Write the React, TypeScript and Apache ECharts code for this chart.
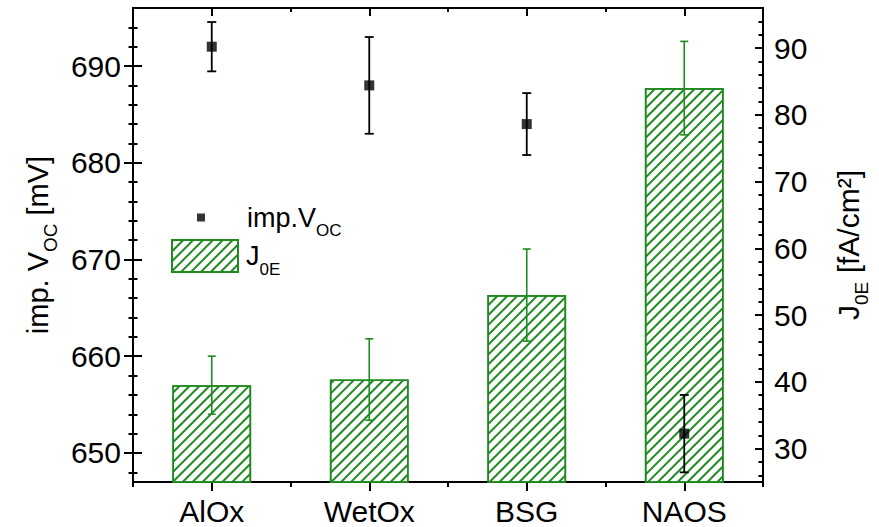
import React, { useEffect, useRef } from "react";
import * as echarts from "echarts";

const categories = ["AlOx", "WetOx", "BSG", "NAOS"];
const vocValues = [692, 688, 684, 652];
const vocErrors = [2.55, 5, 3.2, 4];
const j0eValues = [39.5, 40.35, 53, 84];
const j0eErrors = [4.35, 6.1, 6.9, 7];
const leftMajorTicks = [650, 660, 670, 680, 690];
const leftMinorTicks = [648, 652, 654, 656, 658, 662, 664, 666, 668, 672, 674, 676, 678, 682, 684, 686, 688, 692, 694];
const rightMajorTicks = [30, 40, 50, 60, 70, 80, 90];
const rightMinorTicks = [26, 28, 32, 34, 36, 38, 42, 44, 46, 48, 52, 54, 56, 58, 62, 64, 66, 68, 72, 74, 76, 78, 82, 84, 86, 88, 92, 94];

const GREEN = "#1f8a1f";
const FONT = "Liberation Sans, Arial, sans-serif";

function errorRender(color: string, lw: number, hw: number) {
  return (params: any, api: any) => {
    const x = api.value(0);
    const v = api.value(1);
    const e = api.value(2);
    const top = api.coord([x, v + e]);
    const bot = api.coord([x, v - e]);
    const style = { stroke: color, lineWidth: lw };
    return {
      type: "group",
      children: [
        { type: "line", shape: { x1: top[0], y1: top[1], x2: bot[0], y2: bot[1] }, style },
        { type: "line", shape: { x1: top[0] - hw, y1: top[1], x2: top[0] + hw, y2: top[1] }, style },
        { type: "line", shape: { x1: bot[0] - hw, y1: bot[1], x2: bot[0] + hw, y2: bot[1] }, style },
      ],
    };
  };
}

export default function App() {
  const ref = useRef<HTMLDivElement>(null);
  useEffect(() => {
    const chart = echarts.init(ref.current!, undefined, { renderer: "svg" });
    const black = "#000";
    const lineStyle = { color: black, width: 2 };
    const subStyle = (size: number, pad: number) => ({
      fontSize: size,
      color: black,
      fontFamily: FONT,
      verticalAlign: "bottom",
      padding: [pad, 0, 0, 0],
    });
    const option: any = {
      animation: false,
      textStyle: { fontFamily: FONT, color: black },
      grid: { left: 133, right: 114, top: 8, bottom: 45 },
      legend: [
        {
          data: ["imp.V_OC"],
          left: 197,
          top: 204,
          padding: 0,
          icon: "rect",
          itemWidth: 8,
          itemHeight: 8,
          formatter: () => "{g|}{a|imp.V}{s|OC}",
          textStyle: {
            rich: {
              g: { width: 37 },
              a: { fontSize: 27, color: black, fontFamily: FONT },
              s: subStyle(17, 26),
            },
          },
        },
        {
          data: ["J0E"],
          left: 171,
          top: 239,
          padding: 0,
          icon: "rect",
          itemWidth: 66,
          itemHeight: 32,
          formatter: () => "{a|J}{s|0E}",
          textStyle: {
            rich: {
              a: { fontSize: 27, color: black, fontFamily: FONT, padding: [0, 0, 0, 3] },
              s: subStyle(17, 26),
            },
          },
        },
      ],
      xAxis: [
        {
          type: "category",
          data: categories,
          position: "bottom",
          boundaryGap: true,
          axisLine: { show: true, lineStyle },
          axisTick: { show: true, alignWithLabel: true, length: 9, lineStyle, interval: 0 },
          axisLabel: { fontSize: 30, color: black, margin: 14, fontFamily: FONT, interval: 0 },
          splitLine: { show: false },
        },
        {
          type: "category",
          data: categories,
          position: "bottom",
          axisLine: { show: false },
          axisTick: { show: true, length: 5, lineStyle, interval: 0 },
          axisLabel: { show: false },
          splitLine: { show: false },
        },
        {
          type: "category",
          data: categories,
          position: "top",
          axisLine: { show: true, lineStyle },
          axisTick: { show: true, inside: true, alignWithLabel: true, length: 8, lineStyle, interval: 0 },
          axisLabel: { show: false },
          splitLine: { show: false },
        },
        {
          type: "category",
          data: categories,
          position: "top",
          axisLine: { show: false },
          axisTick: { show: true, inside: true, length: 4, lineStyle, interval: 0 },
          axisLabel: { show: false },
          splitLine: { show: false },
        },
      ],
      yAxis: [
        {
          type: "value",
          position: "left",
          min: 647,
          max: 696,
          axisLine: { show: true, lineStyle },
          axisTick: { show: false },
          axisLabel: { customValues: leftMajorTicks, fontSize: 30, color: black, margin: 12, fontFamily: FONT },
          splitLine: { show: false },
          name: "imp. V{s|OC} [mV]",
          nameLocation: "middle",
          nameRotate: 90,
          nameGap: 72,
          nameTextStyle: {
            fontSize: 29,
            color: black,
            fontFamily: FONT,
            rich: { s: subStyle(19, 26) },
          },
        },
        {
          type: "value",
          position: "right",
          min: 25,
          max: 96,
          axisLine: { show: true, lineStyle },
          axisTick: { show: true, inside: true, customValues: rightMajorTicks, length: 8, lineStyle },
          axisLabel: { customValues: rightMajorTicks, fontSize: 30, color: black, margin: 11, fontFamily: FONT },
          splitLine: { show: false },
          name: "J{s|0E} [fA/cm²]",
          nameLocation: "middle",
          nameRotate: 90,
          nameGap: 63,
          nameTextStyle: {
            fontSize: 30,
            color: black,
            fontFamily: FONT,
            rich: { s: subStyle(19, 26) },
          },
        },
        {
          type: "value",
          position: "left",
          offset: -9,
          min: 647,
          max: 696,
          axisLine: { show: false },
          axisTick: { show: true, customValues: leftMajorTicks, length: 18, lineStyle },
          axisLabel: { show: false },
          splitLine: { show: false },
        },
        {
          type: "value",
          position: "left",
          offset: -4.5,
          min: 647,
          max: 696,
          axisLine: { show: false },
          axisTick: { show: true, customValues: leftMinorTicks, length: 9, lineStyle },
          axisLabel: { show: false },
          splitLine: { show: false },
        },
        {
          type: "value",
          position: "right",
          min: 25,
          max: 96,
          axisLine: { show: false },
          axisTick: { show: true, inside: true, customValues: rightMinorTicks, length: 4.5, lineStyle },
          axisLabel: { show: false },
          splitLine: { show: false },
        },
      ],
      series: [
        {
          name: "J0E",
          type: "bar",
          xAxisIndex: 0,
          yAxisIndex: 1,
          barWidth: "50%",
          data: j0eValues,
          z: 2,
          itemStyle: {
            color: "#ffffff",
            borderColor: GREEN,
            borderWidth: 1.6,
            decal: {
              symbol: "rect",
              symbolSize: 1,
              color: GREEN,
              backgroundColor: null,
              dashArrayX: [1, 0],
              dashArrayY: [1.6, 4.2],
              rotation: -Math.PI / 4,
            },
          },
        },
        {
          name: "J0E err",
          type: "custom",
          xAxisIndex: 0,
          yAxisIndex: 1,
          z: 3,
          renderItem: errorRender(GREEN, 1.6, 4),
          encode: { x: 0, y: 1 },
          data: categories.map((_, i) => [i, j0eValues[i], j0eErrors[i]]),
        },
        {
          name: "Voc err",
          type: "custom",
          xAxisIndex: 0,
          yAxisIndex: 0,
          z: 4,
          renderItem: errorRender("#000", 1.8, 4.5),
          encode: { x: 0, y: 1 },
          data: categories.map((_, i) => [i, vocValues[i], vocErrors[i]]),
        },
        {
          name: "imp.V_OC",
          type: "scatter",
          xAxisIndex: 0,
          yAxisIndex: 0,
          symbol: "rect",
          symbolSize: 10,
          z: 5,
          itemStyle: { color: "#000" },
          data: vocValues,
        },
      ],
    };
    chart.setOption(option);
    return () => chart.dispose();
  }, []);
  return (
    <div
      ref={ref}
      style={{ position: "fixed", left: 0, top: 0, width: 879, height: 527, background: "#fff" }}
    />
  );
}
